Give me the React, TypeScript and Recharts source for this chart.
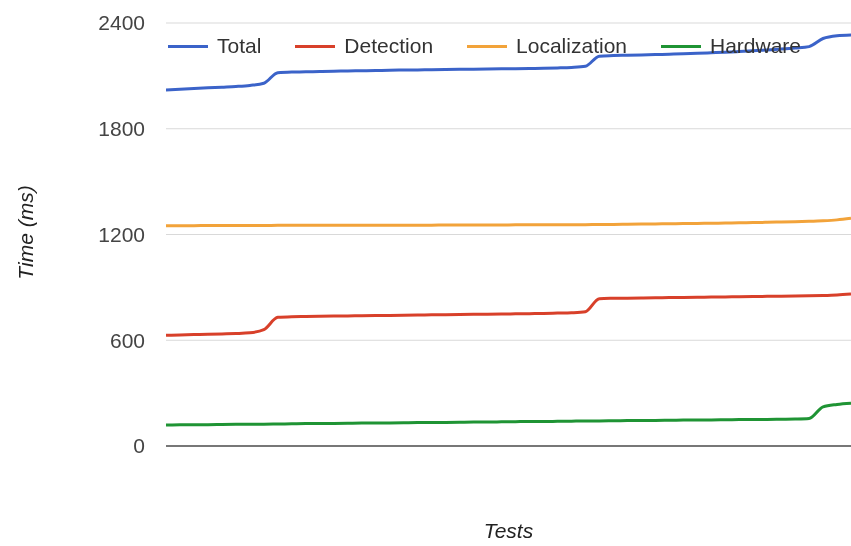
import React from 'react';
import {LineChart, Line, XAxis, YAxis, CartesianGrid, Legend, ReferenceLine} from 'recharts';

// Timing per test run (ms), one value per test
const totalMs = [
  2020, 2024, 2028, 2032, 2036, 2040, 2046, 2058, 2118, 2122,
  2123, 2125, 2126, 2128, 2129, 2130, 2132, 2133, 2134, 2135,
  2136, 2137, 2138, 2139, 2140, 2141, 2142, 2143, 2145, 2148,
  2155, 2212, 2215, 2217, 2219, 2221, 2223, 2225, 2228, 2231,
  2234, 2238, 2242, 2247, 2252, 2258, 2266, 2312, 2328, 2332,
];

const detectionMs = [
  628, 630, 632, 634, 636, 638, 642, 660, 730, 734,
  735, 736, 737, 738, 739, 740, 741, 742, 743, 744,
  745, 746, 747, 748, 749, 750, 751, 752, 754, 756,
  762, 836, 838, 839, 840, 841, 842, 843, 844, 845,
  846, 847, 848, 849, 850, 851, 852, 854, 857, 862,
];

const localizationMs = [
  1250, 1250, 1250, 1251, 1251, 1251, 1251, 1251, 1252, 1252,
  1252, 1252, 1252, 1252, 1253, 1253, 1253, 1253, 1253, 1253,
  1254, 1254, 1254, 1254, 1254, 1255, 1255, 1255, 1256, 1256,
  1256, 1257, 1257, 1258, 1259, 1260, 1261, 1262, 1263, 1264,
  1265, 1266, 1268, 1269, 1271, 1273, 1275, 1278, 1283, 1292,
];

const hardwareMs = [
  119, 120, 121, 121, 122, 123, 124, 124, 125, 126,
  127, 127, 128, 129, 130, 130, 131, 132, 133, 133,
  134, 135, 136, 136, 137, 138, 139, 139, 140, 141,
  142, 142, 143, 144, 145, 145, 146, 147, 148, 148,
  149, 150, 151, 151, 152, 153, 156, 222, 236, 243,
];

const tests = totalMs.map((_, i) => `Test ${i + 1}`);

const yTicks = [0, 600, 1200, 1800, 2400];

const data = tests.map((name, i) => ({
  name,
  total: totalMs[i],
  detection: detectionMs[i],
  localization: localizationMs[i],
  hardware: hardwareMs[i],
}));

const FONT = '"Liberation Sans", Arial, sans-serif';

const series = [
  {key: 'total', name: 'Total', color: '#3b63c9'},
  {key: 'detection', name: 'Detection', color: '#d8402a'},
  {key: 'localization', name: 'Localization', color: '#f2a33a'},
  {key: 'hardware', name: 'Hardware', color: '#1f9434'},
];

// legend keeps series order (recharts would sort it by name)
const LegendRow = () => (
  <div style={{display: 'flex', alignItems: 'center', fontFamily: FONT, fontSize: 21, color: '#333'}}>
    {series.map((s) => (
      <div key={s.key} style={{display: 'flex', alignItems: 'center', marginRight: 34}}>
        <span style={{display: 'inline-block', width: 40, height: 3, background: s.color, marginRight: 9}} />
        <span>{s.name}</span>
      </div>
    ))}
  </div>
);

const YTitle = (props: any) => {
  const {viewBox} = props;
  const cx = 25;
  const cy = viewBox.y + viewBox.height / 2 - 2;
  return (
    <text
      x={cx}
      y={cy}
      transform={`rotate(-90 ${cx} ${cy})`}
      textAnchor='middle'
      dominantBaseline='central'
      fontFamily={FONT}
      fontSize={21}
      fontStyle='italic'
      fill='#222'
    >
      Time (ms)
    </text>
  );
};

export default function App() {
  return (
    <div style={{position: 'fixed', left: 0, top: 0}}>
      <LineChart width={851} height={546} data={data} margin={{top: 23, right: 0, bottom: 0, left: 0}}>
        <CartesianGrid vertical={false} stroke='#d9d9d9' />
        <XAxis
          dataKey='name'
          height={100}
          tick={false}
          tickLine={false}
          axisLine={false}
          label={{value: 'Tests', position: 'insideBottom', offset: 8, fontSize: 21, fontStyle: 'italic', fill: '#222', fontFamily: FONT}}
        />
        <YAxis
          width={166}
          domain={[0, 2400]}
          ticks={yTicks}
          axisLine={false}
          tickLine={false}
          tickSize={0}
          tickMargin={21}
          tick={{fill: '#444', fontSize: 21, fontFamily: FONT}}
          label={<YTitle />}
        />
        <ReferenceLine y={0} stroke='#777' strokeWidth={2} />
        <Legend
          layout='horizontal'
          verticalAlign='middle'
          align='center'
          content={<LegendRow />}
          wrapperStyle={{top: 34, left: 168, width: 680, height: 24}}
        />
        {series.map((s) => (
          <Line
            key={s.key}
            type='monotone'
            dataKey={s.key}
            name={s.name}
            stroke={s.color}
            strokeWidth={3}
            dot={false}
            isAnimationActive={false}
          />
        ))}
      </LineChart>
    </div>
  );
}
